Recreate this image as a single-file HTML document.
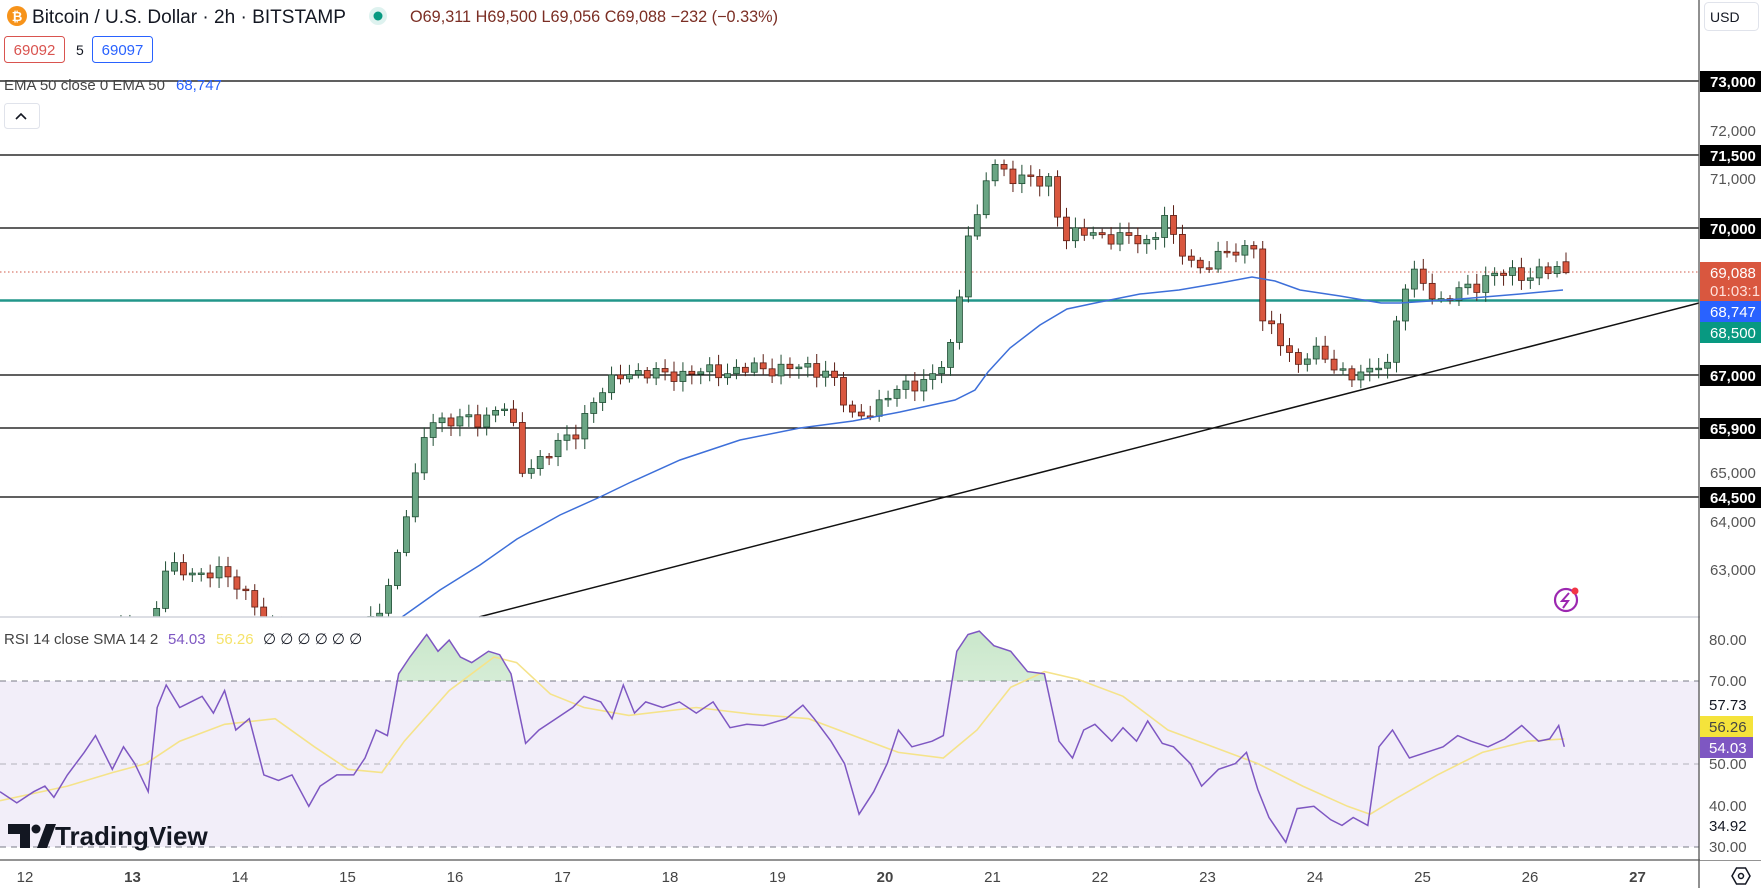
<!DOCTYPE html>
<html><head><meta charset="utf-8">
<style>
html,body{margin:0;padding:0;background:#fff;}
body{width:1761px;height:888px;overflow:hidden;font-family:"Liberation Sans",sans-serif;}
svg text{font-family:"Liberation Sans",sans-serif;}
</style></head>
<body>
<svg id="s" width="1761" height="888" viewBox="0 0 1761 888" xmlns="http://www.w3.org/2000/svg">
<defs>
<clipPath id="pp"><rect x="0" y="0" width="1699" height="617"/></clipPath>
<clipPath id="above70"><rect x="0" y="617" width="1699" height="64"/></clipPath>
<linearGradient id="gf" x1="0" y1="0" x2="0" y2="1"><stop offset="0" stop-color="#4caf50" stop-opacity="0.3"/><stop offset="1" stop-color="#4caf50" stop-opacity="0.02"/></linearGradient>
</defs>
<rect width="1761" height="888" fill="#fff"/>
<rect x="0" y="681" width="1699" height="166" fill="#7e57c2" fill-opacity="0.1"/>
<line x1="0" y1="681" x2="1699" y2="681" stroke="#787b86" stroke-dasharray="6,5" stroke-width="1"/>
<line x1="0" y1="764" x2="1699" y2="764" stroke="#9598a1" stroke-dasharray="6,5" stroke-width="1" stroke-opacity="0.7"/>
<line x1="0" y1="847" x2="1699" y2="847" stroke="#787b86" stroke-dasharray="6,5" stroke-width="1"/>
<g id="rsig"></g>
<g stroke="#000" stroke-width="1.3">
<line x1="0" y1="81" x2="1699" y2="81"/>
<line x1="0" y1="155" x2="1699" y2="155"/>
<line x1="0" y1="228" x2="1699" y2="228"/>
<line x1="0" y1="375" x2="1699" y2="375"/>
<line x1="0" y1="428" x2="1699" y2="428"/>
<line x1="0" y1="497" x2="1699" y2="497"/>
</g>
<line x1="0" y1="300.5" x2="1699" y2="300.5" stroke="#22968a" stroke-width="2.5"/>
<line x1="0" y1="272" x2="1699" y2="272" stroke="#d05a48" stroke-width="1" stroke-dasharray="1.5,2.5"/>
<line x1="479" y1="617" x2="1699" y2="303" stroke="#111" stroke-width="1.5"/>
<g id="cg" clip-path="url(#pp)"></g>
<polyline id="ema" fill="none" stroke="#3d6fd9" stroke-width="1.5" clip-path="url(#pp)" points="402,617 440,590 480,565 517,539 560,515 600,497 629,483 680,460 740,440 800,428 853,421 900,412 955,400 975,390 988,372 1010,348 1040,325 1067,309 1100,302 1140,294 1179,290 1220,283 1252,277 1275,281 1300,290 1340,296 1381,303 1400,303 1460,299 1520,294 1563,290"/>
<line x1="0" y1="617" x2="1761" y2="617" stroke="#d1d4dc" stroke-width="1.5"/>
<line x1="0" y1="860" x2="1761" y2="860" stroke="#555" stroke-width="1.3"/>
<line x1="1699" y1="0" x2="1699" y2="888" stroke="#555" stroke-width="1.3"/>
<circle cx="17" cy="16" r="10" fill="#f7931a"/>
<text x="17" y="21" font-size="13" fill="#fff" text-anchor="middle" font-weight="bold">₿</text>
<text x="32" y="23" font-size="19" fill="#131722" textLength="314" lengthAdjust="spacingAndGlyphs">Bitcoin / U.S. Dollar · 2h · BITSTAMP</text>
<circle cx="378" cy="16" r="9" fill="#22ab94" fill-opacity="0.15"/>
<circle cx="378" cy="16" r="4.5" fill="#089981"/>
<text x="410" y="22" font-size="16.5" fill="#7b2e24" textLength="368" lengthAdjust="spacingAndGlyphs">O69,311 H69,500 L69,056 C69,088 −232 (−0.33%)</text>
<rect x="4.5" y="36.5" width="60" height="26" rx="3" fill="#fff" stroke="#d9534f"/>
<text x="34.5" y="55" font-size="15" fill="#d9534f" text-anchor="middle">69092</text>
<text x="76" y="55" font-size="14" fill="#131722">5</text>
<rect x="92.5" y="36.5" width="60" height="26" rx="3" fill="#fff" stroke="#2962ff"/>
<text x="122.5" y="55" font-size="15" fill="#2962ff" text-anchor="middle">69097</text>
<text x="4" y="90" font-size="15" fill="#444">EMA 50 close 0 EMA 50</text>
<text x="176" y="90" font-size="15" fill="#2962ff">68,747</text>
<rect x="4.5" y="103.5" width="35" height="25" rx="3" fill="#fff" stroke="#e0e3eb"/>
<path d="M16 119 L21 114 L26 119" fill="none" stroke="#131722" stroke-width="1.6"/>
<text x="4" y="644" font-size="15" fill="#444">RSI 14 close SMA 14 2</text>
<text x="168" y="644" font-size="15" fill="#7e57c2">54.03</text>
<text x="216" y="644" font-size="15" fill="#f5e36b">56.26</text>
<text x="263" y="644" font-size="15" fill="#131722">∅ ∅ ∅ ∅ ∅ ∅</text>
<g fill="#131722">
<path d="M8 824 H30 V848 H20 V834 H8 Z"/>
<circle cx="36" cy="829" r="4.5"/>
<path d="M37 848 L46 824 H56 L47 848 Z"/>
</g>
<text x="55" y="845" font-size="26" font-weight="bold" fill="#131722">TradingView</text>
<circle cx="1566" cy="600" r="11" fill="none" stroke="#9c27b0" stroke-width="2.2"/>
<path d="M1569 593 L1562 601 H1568 L1563 608" fill="none" stroke="#9c27b0" stroke-width="2"/>
<circle cx="1575" cy="591" r="3.5" fill="#f23645"/>
<rect x="1700" y="0" width="61" height="860" fill="#fff"/>
<rect x="1704.5" y="2.5" width="54" height="28" rx="4" fill="#fff" stroke="#e0e3eb"/>
<text x="1710" y="22" font-size="14" fill="#131722">USD</text>
<g font-size="15" fill="#555">
<text x="1710" y="136">72,000</text>
<text x="1710" y="184">71,000</text>
<text x="1710" y="478">65,000</text>
<text x="1710" y="527">64,000</text>
<text x="1710" y="575">63,000</text>
</g>
<g font-size="15" fill="#fff" font-weight="bold">
<rect x="1700" y="71" width="61" height="21" fill="#000"/><text x="1710" y="87">73,000</text>
<rect x="1700" y="145" width="61" height="21" fill="#000"/><text x="1710" y="161">71,500</text>
<rect x="1700" y="218" width="61" height="21" fill="#000"/><text x="1710" y="234">70,000</text>
<rect x="1700" y="365" width="61" height="21" fill="#000"/><text x="1710" y="381">67,000</text>
<rect x="1700" y="418" width="61" height="21" fill="#000"/><text x="1710" y="434">65,900</text>
<rect x="1700" y="487" width="61" height="21" fill="#000"/><text x="1710" y="503">64,500</text>
</g>
<g font-size="15" fill="#fff">
<rect x="1700" y="262" width="61" height="40" fill="#d9573f"/>
<text x="1710" y="278">69,088</text><text x="1710" y="296" fill="#ffe0da">01:03:1</text>
<rect x="1700" y="301" width="61" height="21" fill="#2962ff"/><text x="1710" y="317">68,747</text>
<rect x="1700" y="322" width="61" height="21" fill="#089981"/><text x="1710" y="338">68,500</text>
</g>
<g font-size="15" fill="#555">
<text x="1709" y="645">80.00</text>
<text x="1709" y="686">70.00</text>
<text x="1709" y="769">50.00</text>
<text x="1709" y="811">40.00</text>
<text x="1709" y="852">30.00</text>
<text x="1709" y="710" fill="#131722">57.73</text>
<text x="1709" y="831" fill="#131722">34.92</text>
</g>
<rect x="1700" y="716" width="53" height="21" fill="#f5e33b"/><text x="1709" y="732" font-size="15" fill="#444">56.26</text>
<rect x="1700" y="737" width="53" height="21" fill="#7e57c2"/><text x="1709" y="753" font-size="15" fill="#fff">54.03</text>
<g id="tx" font-size="15" fill="#444" text-anchor="middle"></g>
<g transform="translate(1741,876)"><path d="M-9 0 L-4.5 -8 H4.5 L9 0 L4.5 8 H-4.5 Z" fill="none" stroke="#131722" stroke-width="1.5"/><circle r="2.5" fill="none" stroke="#131722" stroke-width="1.5"/></g>
</svg>
<script>
(function(){
var NS="http://www.w3.org/2000/svg";
function el(t,a,p){var e=document.createElementNS(NS,t);for(var k in a)e.setAttribute(k,a[k]);p.appendChild(e);return e;}
var tx=document.getElementById('tx');
for(var d=12;d<=27;d++){var x=1530-(26-d)*107.5;var t=el('text',{x:x,y:882},tx);if(d==13||d==20||d==27)t.setAttribute('font-weight','bold');t.textContent=String(d);}
function py(p){return 81+(73000-p)*0.049;}
var kp=[[0,61500],[150,61900],[160,62600],[166,63100],[190,62900],[215,63050],[235,62700],[255,62400],[265,61800],[300,61500],[350,61600],[370,61900],[385,62400],[395,63200],[405,64100],[415,64800],[425,65800],[432,66100],[480,66050],[500,66400],[510,66300],[520,65000],[540,65300],[575,65800],[590,66400],[625,67100],[650,67000],[700,67050],[780,67150],[830,67100],[850,66100],[880,66400],[905,66800],[935,66950],[950,67500],[962,69000],[970,70200],[982,70100],[988,71350],[1010,71100],[1040,70900],[1052,71000],[1062,69800],[1090,69900],[1120,69800],[1150,69700],[1165,70300],[1175,69600],[1200,69200],[1220,69400],[1245,69600],[1255,69700],[1262,68100],[1280,67700],[1300,67200],[1310,67500],[1330,67250],[1350,67000],[1370,67000],[1380,67300],[1385,67000],[1395,68000],[1405,68800],[1420,69100],[1425,68800],[1440,68500],[1460,68700],[1475,68800],[1490,69100],[1520,69000],[1540,69150],[1560,69100],[1570,69088]];
function ip(x){for(var i=1;i<kp.length;i++){if(x<=kp[i][0]){var a=kp[i-1],b=kp[i];return a[1]+(b[1]-a[1])*(x-a[0])/(b[0]-a[0]);}}return kp[kp.length-1][1];}
var cg=document.getElementById('cg');
var N=177,prev=ip(0);
for(var i=0;i<N;i++){
 var x=1566-(N-1-i)*8.92;
 var n=110*Math.sin(i*2.3)+70*Math.sin(i*5.1+1);
 var c=(i==N-1)?69088:ip(x)+n;
 var o=(i==N-1)?69311:prev;
 var hi=Math.max(o,c)+60+Math.abs(150*Math.sin(i*3.7)), lo=Math.min(o,c)-60-Math.abs(150*Math.cos(i*2.9));
 if(i==N-1){hi=69500;lo=69056;}
 var up=c>=o;
 var fill=up?'#6aa584':'#d9573f', st=up?'#1f4d33':'#5a1d14';
 el('line',{x1:x,y1:py(hi),x2:x,y2:py(lo),stroke:st,'stroke-width':1},cg);
 var y1=py(Math.max(o,c)),y2=py(Math.min(o,c));if(y2-y1<1.5)y2=y1+1.5;
 el('rect',{x:x-3,y:y1,width:6,height:y2-y1,fill:fill,stroke:st,'stroke-width':0.8},cg);
 prev=c;
}
var r=[[0,705],[15,715],[30,705],[40,700],[48,710],[60,690],[75,670],[85,655],[100,685],[110,665],[120,680],[132,705],[140,630],[148,610],[160,630],[170,625],[180,620],[190,635],[200,615],[210,650],[222,640],[235,690],[248,695],[260,690],[275,718],[285,700],[300,690],[315,690],[325,675],[335,650],[345,655],[355,600],[365,585],[380,565],[390,580],[400,570],[410,585],[420,590],[435,580],[445,583],[455,600],[468,662],[480,650],[495,640],[510,630],[520,620],[535,625],[545,640],[555,610],[565,635],[575,625],[590,630],[605,625],[620,635],[635,625],[650,648],[665,645],[680,646],[700,640],[715,628],[725,640],[740,660],[752,680],[765,725],[778,705],[790,680],[800,650],[812,665],[830,660],[840,655],[852,580],[862,565],[872,562],[885,575],[900,580],[915,598],[930,600],[943,660],[955,675],[965,650],[975,645],[990,660],[1000,648],[1012,660],[1022,642],[1035,662],[1045,665],[1060,680],[1070,700],[1085,685],[1100,680],[1110,670],[1120,703],[1130,728],[1145,750],[1155,720],[1170,718],[1185,730],[1195,735],[1205,728],[1218,735],[1228,665],[1240,650],[1255,675],[1270,670],[1285,665],[1298,655],[1310,660],[1325,665],[1340,658],[1355,646],[1370,660],[1380,658],[1388,646],[1393,665]];
var s=[[0,713],[60,700],[100,688],[130,680],[160,660],[200,645],[245,640],[280,665],[310,685],[340,688],[360,660],[400,615],[440,585],[460,590],[490,618],[520,630],[560,637],[620,630],[670,636],[720,640],[760,655],[800,670],[840,675],[870,650],[900,612],[930,598],[960,605],[1000,620],[1040,650],[1080,665],[1120,680],[1160,700],[1200,718],[1220,725],[1245,710],[1280,690],[1320,670],[1360,660],[1393,658]];
function pts(a){return a.map(function(p){return (p[0]*1.123).toFixed(1)+','+(p[1]*1.123).toFixed(1);}).join(' ');}
var g=document.getElementById('rsig');
var rp=pts(r);
var last=r[r.length-1][0]*1.123;
el('polygon',{points:'0,681 '+rp+' '+last+',681',fill:'url(#gf)','clip-path':'url(#above70)'},g);
el('polyline',{points:pts(s),fill:'none',stroke:'#f5e38a','stroke-width':1.6},g);
el('polyline',{points:rp,fill:'none',stroke:'#7e57c2','stroke-width':1.5},g);
})();
</script>
</body></html>
